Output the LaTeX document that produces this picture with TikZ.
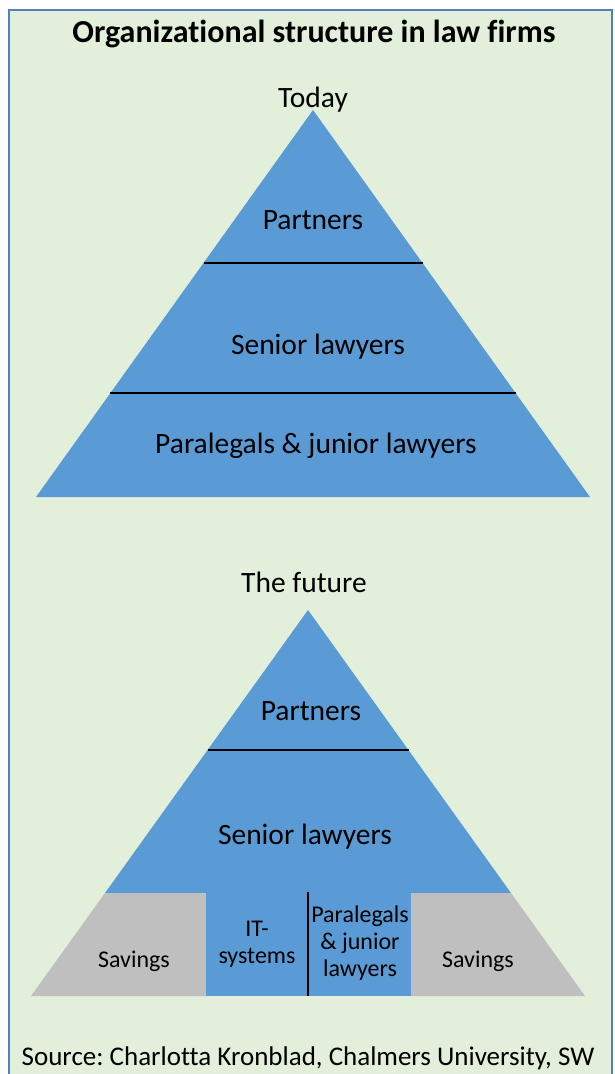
\documentclass[tikz,border=0pt]{standalone}
\usepackage{fontspec}
\setmainfont{Carlito}[Ligatures=NoCommon]
\frenchspacing
\begin{document}
\begin{tikzpicture}[x=1pt,y=-1pt,
  divider/.style={draw=black,line width=1.1pt},
  lbl/.style={inner sep=0pt,align=center,text=black,font=\fontsize{29.5}{34}\selectfont},
  small/.style={inner sep=0pt,align=center,text=black,font=\fontsize{24}{27}\selectfont},
]
\definecolor{panelgreen}{HTML}{E2EFDA}
\definecolor{framecol}{HTML}{4F81BD}
\definecolor{tierblue}{HTML}{5B9BD5}
\definecolor{savegray}{HTML}{BFBFBF}
\useasboundingbox (0,0) rectangle (615,1074);
\fill[white] (0,0) rectangle (615,1074);
% panel with its frame running off the lower edge
\fill[panelgreen] (9,10) rectangle (612,1080);
\draw[framecol,line width=1.6pt] (9,1080) -- (9,10) -- (612,10) -- (612,1080);

\node[inner sep=0pt,font=\fontsize{32}{38}\selectfont\bfseries] (title) at (314,34) {Organizational structure in law firms};

% ---- today's pyramid
\coordinate (tA) at (313,110);
\coordinate (tL) at (36,497);
\coordinate (tR) at (590,497);
\fill[tierblue] (tA) -- (tL) -- (tR) -- cycle;
\coordinate (t1l) at (203.5,263); \coordinate (t1r) at (422.5,263);
\coordinate (t2l) at (110,393);   \coordinate (t2r) at (516,393);
\draw[divider] (t1l) -- (t1r);
\draw[divider] (t2l) -- (t2r);
\node[lbl] (today) at (313,100) {Today};
\node[lbl] (tpart) at (313,220) {Partners};
\node[lbl] (tsen) at (318,347) {Senior lawyers};
\node[lbl] (tpara) at (316,446) {Paralegals \& junior lawyers};

% ---- future pyramid
\coordinate (fA) at (308,610);
\coordinate (fL) at (31,996);
\coordinate (fR) at (585,996);
\coordinate (fbl) at (105,893);
\coordinate (fbr) at (511,893);
\fill[tierblue] (fA) -- (fbl) -- (fbr) -- cycle;
\fill[savegray] (fbl) -- (fL) -- (206,996) -- (206,893) -- cycle;
\fill[savegray] (411,893) -- (411,996) -- (fR) -- (fbr) -- cycle;
\fill[tierblue] (206,893) rectangle (411,996);
\coordinate (f1l) at (207.5,750); \coordinate (f1r) at (408.5,750);
\draw[divider] (f1l) -- (f1r);
\coordinate (fvt) at (308,892); \coordinate (fvb) at (308,996);
\draw[divider,line width=1.3pt] (fvt) -- (fvb);
\node[lbl] (future) at (304,582) {The future};
\node[lbl] (fpart) at (311,711) {Partners};
\node[lbl] (fsen) at (305,837) {Senior lawyers};
\node[small] (sav1) at (134,961) {Savings};
\node[small] (it) at (257,944) {IT-\\systems};
\node[small] (fpara) at (360,943) {Paralegals\\\& junior\\lawyers};
\node[small] (sav2) at (478,961) {Savings};

\node[inner sep=0pt,font=\fontsize{27}{32}\selectfont] (src) at (308,1058) {Source: Charlotta Kronblad, Chalmers University, SW};
\end{tikzpicture}
\end{document}
